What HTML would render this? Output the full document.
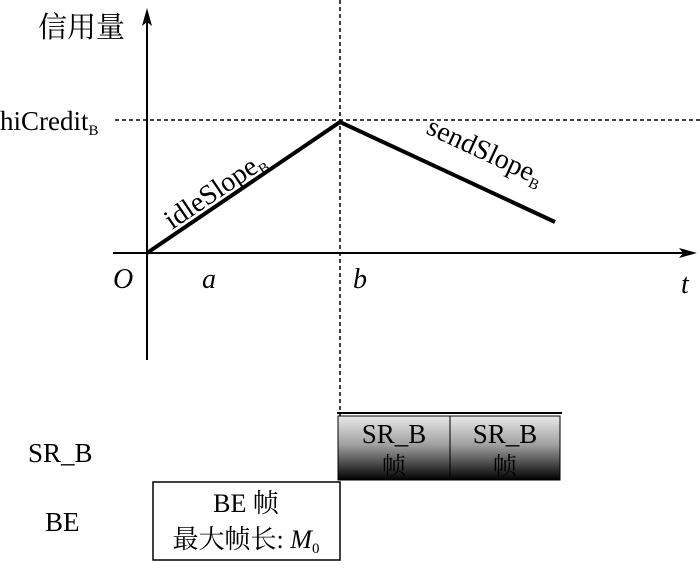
<!DOCTYPE html><html><head><meta charset="utf-8"><style>body{margin:0;background:#fff}text{font-family:"Liberation Serif","Noto Serif CJK SC",serif;fill:#000}</style></head><body>
<svg width="700" height="567" viewBox="0 0 700 567" xmlns="http://www.w3.org/2000/svg">
<defs><linearGradient id="g" x1="0" y1="0" x2="0" y2="1"><stop offset="0" stop-color="#e8e8e8"/><stop offset="0.45" stop-color="#a0a0a0"/><stop offset="1" stop-color="#000"/></linearGradient></defs>
<line x1="147" y1="360" x2="147" y2="14" stroke="#000" stroke-width="2"/>
<polygon points="147,8 142,26 147,22 152,26" fill="#000"/>
<line x1="113" y1="253" x2="690" y2="253" stroke="#000" stroke-width="2"/>
<polygon points="697,253 679,248 683,253 679,258" fill="#000"/>
<line x1="340" y1="0" x2="340" y2="482" stroke="#000" stroke-width="1.5" stroke-dasharray="4,3"/>
<line x1="115" y1="120" x2="700" y2="120" stroke="#000" stroke-width="1.5" stroke-dasharray="4,3"/>
<polyline points="147,253 340,122 555,222" fill="none" stroke="#000" stroke-width="4"/>
<text x="38" y="37" font-size="29">信用量</text>
<text x="0" y="130" font-size="27">hiCredit<tspan font-size="15" dy="5">B</tspan></text>
<text transform="translate(172,230) rotate(-34)" font-size="28">idleSlope<tspan font-size="15" dy="5">B</tspan></text>
<text transform="translate(425,133) rotate(25)" font-size="28">sendSlope<tspan font-size="15" dy="5">B</tspan></text>
<text x="113" y="288" font-size="28" font-style="italic">O</text>
<text x="202" y="288" font-size="28" font-style="italic">a</text>
<text x="353" y="288" font-size="28" font-style="italic">b</text>
<text x="681" y="293" font-size="28" font-style="italic">t</text>
<text x="28" y="462" font-size="27">SR_B</text>
<text x="45" y="531" font-size="27">BE</text>
<line x1="337" y1="413" x2="562" y2="413" stroke="#000" stroke-width="2"/>
<rect x="338" y="416" width="112" height="64" fill="url(#g)" stroke="#000" stroke-width="1"/>
<rect x="450" y="416" width="110" height="64" fill="url(#g)" stroke="#000" stroke-width="1"/>
<text x="394" y="443" font-size="27" text-anchor="middle">SR_B</text>
<text x="394" y="474" font-size="24" text-anchor="middle">帧</text>
<text x="505" y="443" font-size="27" text-anchor="middle">SR_B</text>
<text x="505" y="474" font-size="24" text-anchor="middle">帧</text>
<rect x="153" y="482" width="187" height="78" fill="#fff" stroke="#000" stroke-width="1.5"/>
<text x="246" y="512" font-size="26" text-anchor="middle">BE 帧</text>
<text x="246" y="548" font-size="26" text-anchor="middle">最大帧长: <tspan font-style="italic">M</tspan><tspan font-size="15" dy="5">0</tspan></text>
</svg></body></html>
